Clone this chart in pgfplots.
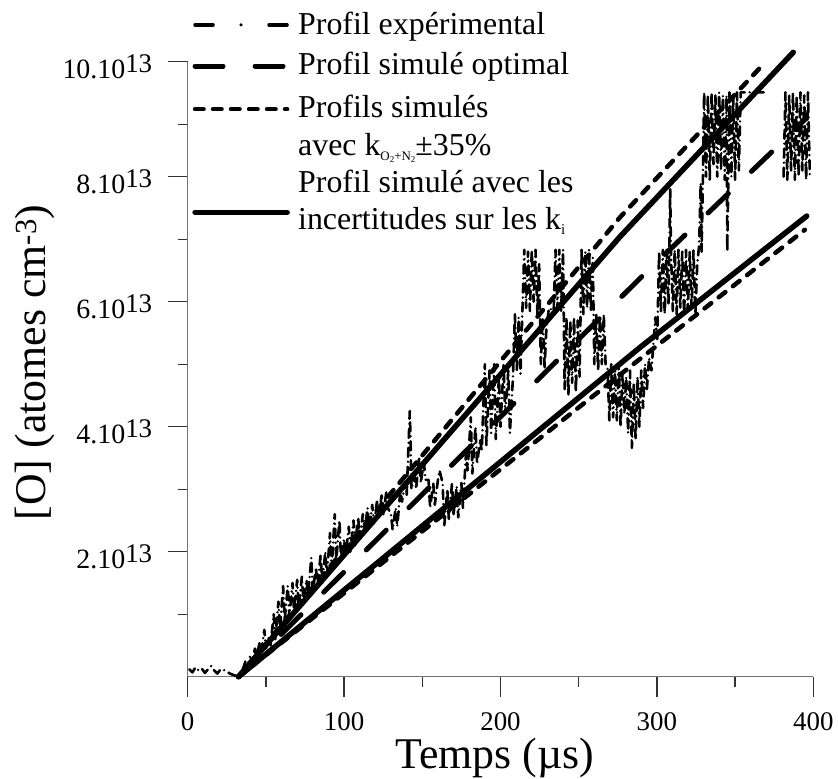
\documentclass[border=0pt]{standalone}
\usepackage{fontspec}
\setmainfont{Liberation Serif}
\usepackage{pgfplots}
\pgfplotsset{compat=1.18}
\newcommand{\tsup}[1]{\raisebox{6bp}{\fontsize{27}{27}\selectfont #1}}
\newcommand{\legfont}{\fontsize{32}{32}\selectfont}
\tikzset{
  expst/.style={line width=2.6bp, line cap=round, line join=round, dash pattern=on 9bp off 5bp on 0bp off 5bp},
  expleg/.style={line width=3.5bp, line cap=round, dash pattern=on 18bp off 28bp on 0bp off 28bp},
  optst/.style={line width=5bp, line cap=round, dash pattern=on 28bp off 32bp},
  pmst/.style={line width=4.5bp, line cap=round, dash pattern=on 8.5bp off 9.5bp},
  incst/.style={line width=5.5bp, line cap=round},
}
\begin{document}
\begin{tikzpicture}
\begin{axis}[
  at={(0,0)}, anchor=south west,
  scale only axis, width=625.6bp, height=615bp,
  xmin=0, xmax=400, ymin=0, ymax=9.84,
  clip=false,
  axis x line*=bottom, axis y line*=left,
  axis line style={draw=black!55, line width=1.3bp},
  tick style={draw=black!80, line width=1.3bp},
  tick align=outside,
  major tick length=20bp, minor tick length=10bp,
  xtick={0,100,200,300,400}, xticklabels={0,100,200,300,400},
  minor xtick={50,150,250,350},
  ytick={2,4,6,8,9.84},
  yticklabels={2.10\tsup{13},4.10\tsup{13},6.10\tsup{13},8.10\tsup{13},10.10\tsup{13}},
  minor ytick={1,3,5,7,8.84},
  xticklabel style={font=\fontsize{27}{27}\selectfont, yshift=-12bp, text depth=0pt},
  yticklabel style={font=\fontsize{28}{28}\selectfont, xshift=-12bp, yshift=-5bp},
  xlabel={Temps (µs)}, ylabel={[O] (atomes cm\textsuperscript{-3})},
  label style={font=\fontsize{44}{44}\selectfont},
  xlabel style={at={(axis description cs:0.491,-0.1500)}, anchor=base, text height=30bp, inner sep=0pt},
  ylabel style={at={(axis description cs:-0.244,0.511)}, anchor=center},
]
% experimental profile
\addplot[expst] coordinates {
(1,0.12)(3,0.07)(5,0.15)(7,0.1)(9,0.13)(11,0.06)(13,0.12)(15,0.17)(17,0.1)(19,0.05)(21,0.12)(24,0.1)(27,0.05)(30,0.02)(33,0)
(35,0.1)(37,0.25)(38,0.1)(40,0.35)(41,0.2)(43,0.45)(44,0.3)(46,0.55)(47,0.4)(49,0.75)(50,0.45)(52,0.65)(53,0.5)(55,1.0)(56,0.6)(58,1.2)(59,0.75)(61,1.45)(62,0.9)(64,1.45)(65,0.95)(67,1.5)(68,1.05)(70,1.55)(71,1.1)(73,1.6)(74,1.2)(76,1.55)(77,1.3)(79,1.9)(80,1.35)(82,1.75)(83,1.45)(85,1.95)(86,1.5)(88,2.0)(89,1.6)(91,2.3)(92,1.7)(94,2.6)(95,1.85)(97,2.5)(98,1.9)(100,2.2)(101,1.95)(103,2.4)(104,2.0)(106,2.5)(107,2.1)(109,2.55)(110,2.2)(112,2.6)(113,2.3)(115,2.7)(116,2.35)(118,2.75)(119,2.45)(121,2.8)(122,2.55)(124,2.9)(125,2.6)(127,2.95)(128,2.7)(130,2.6)(131,2.35)(133,2.7)(134,2.4)(136,3.0)(137,2.8)(139,3.1)(140,2.9)(142,4.25)(142.5,3.8)(143,3.0)(145,3.2)(146,3.0)(148,3.5)(149,3.1)(151,3.45)(152,3.15)(154,3.15)(155,2.7)(157,3.1)(158,2.75)(160,3.15)(161,3.3)(163,3.1)(164,2.4)(166,3.0)(167,2.5)(169,3.1)(170,2.6)(172,3.05)(173,2.55)(175,3.1)(176,2.7)(178,3.6)(179,3.3)(181,4.15)(182,3.25)(184,4.0)(185,3.4)(187,3.8)(188,3.6)(190,5.0)(191,3.7)(193,4.9)(194,3.9)(196,5.0)(197,3.8)(199,4.8)(200,4.0)(202,5.0)(203,4.2)(205,4.9)(206,3.9)
(208,4.8)(209.2,5.8)(210.4,4.9)(211.6,5.75)(212.8,4.85)
(214,5.85)(215.2,6.83)(216.4,5.9)(217.6,6.8)(218.8,5.85)(220,6.83)(221.2,6.0)(222.4,6.83)(223.6,5.8)(224.7,6.6)
(225.8,5.0)(227,5.75)(228.2,4.95)(229.4,5.6)(231,5.9)
(234,5.85)(235.2,6.83)(236.4,5.9)(237.6,6.83)(238.8,5.85)(240,6.83)
(241,4.6)(242.2,5.75)(243.4,4.5)(244.6,5.7)(245.8,4.7)(247,5.75)(248.2,4.55)(249.4,5.7)(250.6,4.8)
(251.8,6.83)(253,5.8)(254.2,6.8)(255.4,5.9)(256.6,6.83)(257.8,5.85)(259,6.7)
(260,5.0)(261.2,5.8)(262.4,4.9)(263.6,5.75)(264.8,5.0)(266,5.8)(267.2,5.0)
(268.4,4.95)(269.6,4.1)(270.8,5.0)(272,4.15)(273.2,4.9)(274.4,4.1)(275.6,5.0)(276.8,4.0)(278,4.9)(279.2,4.2)(280.4,4.8)(281.6,3.9)(282.8,4.9)(284,3.66)(285.2,4.7)(286.4,3.8)(287.6,4.8)(288.8,4.0)(290,4.9)(291.2,4.3)(292.4,5.0)(293.6,4.6)(295,5.1)(296.5,4.9)(298,5.4)
(299,5.75)(300.2,5.4)
(301.4,6.8)(302.6,5.85)(303.8,6.83)(305,5.8)(306.2,6.83)(307.4,5.95)(308.5,7.8)(309,6.8)(310.2,5.85)(311.4,6.83)(312.6,5.8)(313.8,6.83)(315,5.9)(316.2,6.8)(317.4,5.8)(318.6,6.83)(319.8,5.85)(321,6.8)(322.2,5.9)(323.4,6.83)(324.6,5.8)(325.8,6.6)
(327,6.9)(328,7.9)(328.6,6.8)(329.4,7.95)
(330.2,9.35)(331.4,8.0)(332.6,9.3)(333.8,7.95)(335,9.35)(336.2,8.2)(337.4,9.3)(338.6,8.0)(339.8,9.35)(341,8.1)(342.2,9.3)(343.4,7.95)(344.5,9.3)(345,6.8)(345.6,7.83)(346.4,9.35)(347.6,8.0)(348.8,9.3)(350,7.95)(351.2,9.35)(352.4,8.1)(353.6,9.35)(369,9.35)
};
\addplot[expst] coordinates {
(381,8.0)(382.2,9.35)(383.4,7.95)(384.6,9.3)(385.8,8.1)(387,9.35)(388.2,7.95)(389.4,9.3)(390.6,8.0)(391.8,9.35)(393,8.1)(394.2,9.3)(395.4,7.95)(396.6,9.35)(397.8,8.0)
};
% optimal simulated profile
\addplot[optst] coordinates {(32.5,0) (293.5,6.48) (373.6,8.40) (396,8.95)};
% +-35% profiles
\addplot[pmst] coordinates {(32.5,0) (276.4,7.35) (369.2,9.83)};
\addplot[pmst] coordinates {(32.5,0) (290,5.10) (394.6,7.15)};
% uncertainties on k_i
\addplot[incst] coordinates {(32.5,0) (276.4,7.04) (387.2,9.99)};
\addplot[incst] coordinates {(32.5,0) (289.3,5.27) (395.8,7.37)};
% legend
\draw[expleg] (axis cs:4.7,10.43) -- (axis cs:63.6,10.43);
\node[anchor=base west, inner sep=0pt, font=\legfont] at (axis cs:70.5,10.27) {Profil expérimental};
\draw[optst] (axis cs:4.7,9.77) -- (axis cs:63.6,9.77);
\node[anchor=base west, inner sep=0pt, font=\legfont] at (axis cs:70.5,9.63) {Profil simulé optimal};
\draw[pmst] (axis cs:4.7,9.08) -- (axis cs:63.6,9.08);
\node[anchor=base west, inner sep=0pt, font=\legfont] at (axis cs:70.5,8.94) {Profils simulés};
\node[anchor=base west, inner sep=0pt, font=\legfont] at (axis cs:70.5,8.34) {avec k\raisebox{-5bp}{\fontsize{13}{13}\selectfont O\raisebox{-2bp}{\fontsize{9}{9}\selectfont 2}+N\raisebox{-2bp}{\fontsize{9}{9}\selectfont 2}}±35\%};
\draw[incst] (axis cs:4.7,7.43) -- (axis cs:63.6,7.43);
\node[anchor=base west, inner sep=0pt, font=\legfont] at (axis cs:70.5,7.74) {Profil simulé avec les};
\node[anchor=base west, inner sep=0pt, font=\legfont] at (axis cs:70.5,7.15) {incertitudes sur les k\raisebox{-5bp}{\fontsize{15}{15}\selectfont i}};
\end{axis}
\pgfresetboundingbox
\path[use as bounding box] (-187.7bp,-102.3bp) rectangle (650.3bp,676.7bp);
\end{tikzpicture}
\end{document}
